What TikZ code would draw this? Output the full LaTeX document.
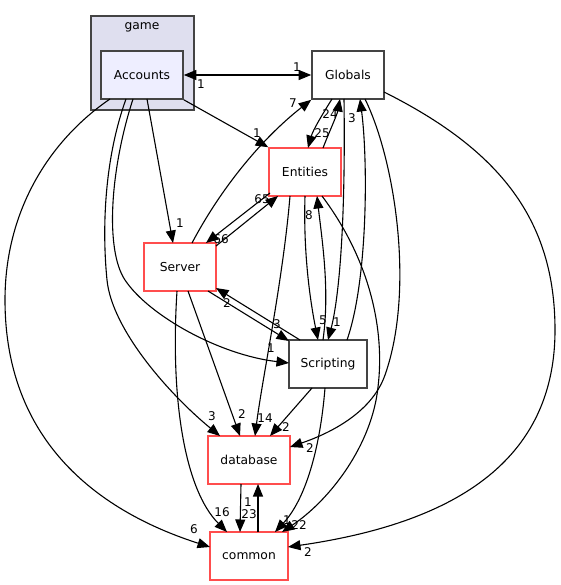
\documentclass[tikz,border=0pt]{standalone}
\usepackage{fontspec}
\setmainfont{DejaVu Sans}
\usetikzlibrary{arrows.meta}
\definecolor{clfill}{HTML}{DFDFEF}
\definecolor{accfill}{HTML}{EEEEFF}
\definecolor{bord}{HTML}{444444}
\definecolor{redb}{HTML}{FF4D4D}
\begin{document}
\begin{tikzpicture}[x=1pt,y=-1pt,
  box/.style={draw=bord,line width=1.6pt,fill=white,minimum width=72pt,minimum height=48pt,inner sep=0pt,font=\fontsize{12.3}{14}\selectfont},
  redbox/.style={box,draw=redb},
  tip/.style={Triangle[length=12.5pt,width=10pt]},
  edge/.style={line width=1.1pt,-{Triangle[length=12.5pt,width=10pt]}},
  lbl/.style={font=\fontsize{12}{14}\selectfont,inner sep=0pt}]
\useasboundingbox[fill=white] (0,0) rectangle (560,585);
% cluster
\node[draw=bord,fill=clfill,line width=1.6pt,minimum width=103pt,minimum height=94pt,inner sep=0pt] (game) at (142.5,63) {};
\node[font=\fontsize{12.3}{14}\selectfont,inner sep=0pt] (gamelbl) at (142,27) {game};
% nodes
\node[box,fill=accfill,minimum width=82pt] (acc) at (142,75) {Accounts};
\node[box] (glob) at (348,75) {Globals};
\node[redbox] (ent) at (305,172) {Entities};
\node[redbox] (srv) at (180,267) {Server};
\node[box,minimum width=78pt] (scr) at (328,364) {Scripting};
\node[redbox,minimum width=82pt] (db) at (249,460) {database};
\node[redbox,minimum width=78pt] (com) at (249,556) {common};
% edges
\draw[line width=1.1pt,{Triangle[length=12.5pt,width=10pt]}-{Triangle[length=12.5pt,width=10pt]}] (acc.east) -- (glob.west);
\draw[edge] (acc.south east) -- (ent.north west);
\draw[edge] ([shift={(5,24)}]acc.center) -- ([shift={(-7,-24)}]srv.center);
\draw[edge] ([shift={(-9,24)}]acc.center) .. controls (110,170) and (105,250) .. (125,280) .. controls (149,316) and (220,355) .. ([shift={(-39,-1)}]scr.center);
\draw[edge] ([shift={(-16,24)}]acc.center) .. controls (104,160) and (102,230) .. (107,280) .. controls (112,330) and (170,395) .. ([shift={(-29,-24)}]db.center);
\draw[edge] ([shift={(-32,24)}]acc.center) .. controls (50,140) and (5,210) .. (5,300) .. controls (5,450) and (110,515) .. ([shift={(-39,-9)}]com.center);
\draw[edge] ([shift={(18,-24)}]ent.center) .. controls (330,130) and (337,115) .. ([shift={(-8,24)}]glob.center);
\draw[edge] ([shift={(-16,24)}]glob.center) .. controls (322,115) and (313,130) .. ([shift={(3,-24)}]ent.center);
\draw[edge] ([shift={(12,-24)}]srv.center) .. controls (220,190) and (260,140) .. (glob.south west);
\draw[edge] ([shift={(-4,24)}]glob.center) .. controls (346,250) and (336,310) .. ([shift={(0,-24)}]scr.center);
\draw[edge] ([shift={(19,-24)}]scr.center) .. controls (368,280) and (368,160) .. ([shift={(12,24)}]glob.center);
\draw[edge] ([shift={(0,24)}]ent.center) .. controls (303,260) and (312,310) .. ([shift={(-10,-24)}]scr.center);
\draw[edge] ([shift={(-5,-24)}]scr.center) .. controls (330,290) and (322,240) .. ([shift={(12,24)}]ent.center);
\draw[edge] ([shift={(36,-21)}]srv.center) -- ([shift={(-27,24)}]ent.center);
\draw[edge] ([shift={(-35,21)}]ent.center) -- ([shift={(26,-24)}]srv.center);
\draw[edge] ([shift={(28,24)}]srv.center) -- ([shift={(-39,-23)}]scr.center);
\draw[edge] ([shift={(-28,-24)}]scr.center) -- ([shift={(36,21)}]srv.center);
\draw[edge] ([shift={(8,24)}]srv.center) -- ([shift={(-9,-24)}]db.center);
\draw[edge] ([shift={(-3,24)}]srv.center) .. controls (170,400) and (185,490) .. ([shift={(-22,-24)}]com.center);
\draw[edge] ([shift={(-15,24)}]ent.center) .. controls (283,280) and (262,380) .. ([shift={(6,-24)}]db.center);
\draw[edge] ([shift={(-16,24)}]scr.center) -- ([shift={(21,-24)}]db.center);
\draw[edge] ([shift={(17,24)}]glob.center) .. controls (395,160) and (415,290) .. (385,375) .. controls (371,415) and (325,435) .. ([shift={(41,-13)}]db.center);
\draw[edge] ([shift={(36,17)}]glob.center) .. controls (500,150) and (555,220) .. (555,330) .. controls (555,470) and (440,525) .. ([shift={(39,-9)}]com.center);
\draw[edge] ([shift={(17,24)}]ent.center) .. controls (370,260) and (385,330) .. (378,387) .. controls (372,445) and (330,500) .. ([shift={(33,-24)}]com.center);
\draw[edge] ([shift={(-3,24)}]scr.center) .. controls (320,450) and (305,500) .. ([shift={(26,-24)}]com.center);
\draw[edge] ([shift={(-8,24)}]db.center) -- ([shift={(-9,-24)}]com.center);
\draw[edge] ([shift={(9,-24)}]com.center) -- ([shift={(9,24)}]db.center);
% labels
\node[lbl] (l1) at (297,67) {1};
\node[lbl] (l2) at (201,84) {1};
\node[lbl] (l3) at (257,133) {1};
\node[lbl] (l4) at (180,223) {1};
\node[lbl] (l5) at (271,348) {1};
\node[lbl] (l6) at (212,416) {3};
\node[lbl] (l7) at (194,529) {6};
\node[lbl] (l8) at (330,114) {24};
\node[lbl] (l9) at (322,133) {25};
\node[lbl] (l10) at (293,103) {7};
\node[lbl] (l11) at (352,118) {3};
\node[lbl] (l12) at (337,322) {1};
\node[lbl] (l13) at (323,320) {5};
\node[lbl] (l14) at (309,215) {8};
\node[lbl] (l15) at (262,199) {65};
\node[lbl] (l16) at (221,239) {66};
\node[lbl] (l17) at (277,324) {3};
\node[lbl] (l18) at (227,303) {2};
\node[lbl] (l19) at (242,414) {2};
\node[lbl] (l20) at (222,512) {16};
\node[lbl] (l21) at (265,418) {14};
\node[lbl] (l22) at (286,427) {2};
\node[lbl] (l23) at (310,448) {2};
\node[lbl] (l24) at (308,552) {2};
\node[lbl] (l25) at (299,525) {22};
\node[lbl] (l26) at (287,520) {1};
\node[lbl] (l27) at (249,514) {23};
\node[lbl] (l28) at (248,502) {1};
\end{tikzpicture}
\end{document}
